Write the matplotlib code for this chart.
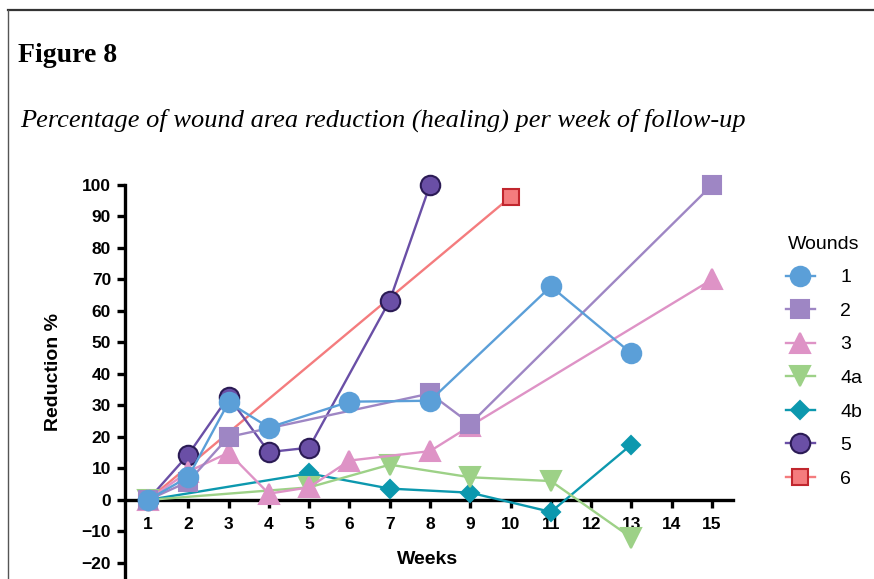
import matplotlib
matplotlib.use('Agg')
from matplotlib import pyplot as plt
from matplotlib.lines import Line2D

# weeks and % reduction per wound
w1_weeks = [1, 2, 3, 4, 6, 8, 11, 13]
w1_vals = [0, 7.3, 31, 23, 31.2, 31.5, 67.8, 46.5]

w2_weeks = [1, 2, 3, 8, 9, 15]
w2_vals = [0, 5.8, 20, 33.8, 24.2, 100]

w3_weeks = [1, 2, 3, 4, 5, 6, 8, 9, 15]
w3_vals = [0, 9, 15, 2, 4, 12.5, 15.5, 23.5, 70]

w4a_weeks = [1, 5, 7, 9, 11, 13]
w4a_vals = [0, 4, 11.2, 7.2, 6, -12]

w4b_weeks = [1, 5, 7, 9, 11, 13]
w4b_vals = [0, 8.4, 3.6, 2.3, -3.8, 17.6]

w5_weeks = [1, 2, 3, 4, 5, 7, 8]
w5_vals = [0, 14.4, 32.8, 15.2, 16.6, 63.3, 100]

w6_weeks = [1, 10]
w6_vals = [0, 96.2]

labels = ['1', '2', '3', '4a', '4b', '5', '6']
week_ticks = list(range(1, 16))
y_ticks = list(range(-20, 101, 10))

series = [
  (w1_weeks, w1_vals, 'o', '#5B9FD8', '#5B9FD8', '#5B9FD8', 14),
  (w2_weeks, w2_vals, 's', '#9E86C4', '#9E86C4', '#9E86C4', 12.5),
  (w3_weeks, w3_vals, '^', '#DE93C6', '#DE93C6', '#DE93C6', 14),
  (w4a_weeks, w4a_vals, 'v', '#9DD187', '#9DD187', '#9DD187', 14),
  (w4b_weeks, w4b_vals, 'D', '#0C98AE', '#0C98AE', '#0C98AE', 9.5),
  (w5_weeks, w5_vals, 'o', '#6A4FA6', '#2B1B55', '#6A4FA6', 14),
  (w6_weeks, w6_vals, 's', '#F47C7E', '#C1262E', '#F47C7E', 11.5),
]

fig = plt.figure(figsize=(8.74, 5.79), dpi=100)

# frame lines of the figure box (top and left)
fig.add_artist(Line2D([8 / 874., 1.0], [1 - 10 / 579., 1 - 10 / 579.], transform=fig.transFigure,
                      color='#333333', lw=1.6))
fig.add_artist(Line2D([8 / 874., 8 / 874.], [0, 1 - 10 / 579.], transform=fig.transFigure,
                      color='#555555', lw=1.0))

fig.text(18 / 874., 1 - 62 / 579., 'Figure 8', family='Liberation Serif', fontweight='bold', fontsize=20)
fig.text(20 / 874., 1 - 127 / 579., 'Percentage of wound area reduction (healing) per week of follow-up',
         family='Liberation Serif', style='italic', fontsize=19)

ax = fig.add_axes([125 / 874., 0, (733 - 125) / 874., (579 - 185) / 579.])
ax.set_xlim(0.43, 15.52)
ax.set_ylim(-25.1, 100)

handles = []
n = len(series)
for i, (xs, ys, mk, fc, ec, lc, ms) in enumerate(series):
  h, = ax.plot(xs, ys, '-', color=lc, lw=1.7, marker=mk, markersize=ms, markerfacecolor=fc,
               markeredgecolor=ec, markeredgewidth=1.5, clip_on=False, zorder=10 + n - i,
               label=labels[i])
  handles.append(h)

for s in ['top', 'right']:
  ax.spines[s].set_visible(False)
ax.spines['bottom'].set_position(('data', 0))
ax.spines['left'].set_bounds(-25.1, 100)
for s in ['left', 'bottom']:
  ax.spines[s].set_linewidth(2.4)
ax.patch.set_visible(False)

ax.set_xticks(week_ticks)
ax.set_yticks(y_ticks)
ax.tick_params(axis='both', width=2.4, length=6, labelsize=12.5, pad=4)
ax.tick_params(axis='x', pad=6)
for t in ax.get_xticklabels() + ax.get_yticklabels():
  t.set_fontweight('bold')
  t.set_family('Liberation Sans')

fig.text(428 / 874., 1 - 560 / 579., 'Weeks', ha='center', va='center', fontsize=14,
         fontweight='bold', family='Liberation Sans')
fig.text(53 / 874., 1 - 372 / 579., 'Reduction %', ha='center', va='center', rotation=90,
         fontsize=14, fontweight='bold', family='Liberation Sans')

leg = fig.legend(handles=handles, loc='upper left', bbox_to_anchor=(778 / 874., 1 - 228 / 579.),
                 frameon=False, title='Wounds', fontsize=14, title_fontsize=14,
                 handlelength=1.5, labelspacing=0.82, handletextpad=1.3, borderaxespad=0)
for t in leg.get_texts():
  t.set_family('Liberation Sans')
leg.get_title().set_family('Liberation Sans')

plt.savefig('out.png', dpi=100)
